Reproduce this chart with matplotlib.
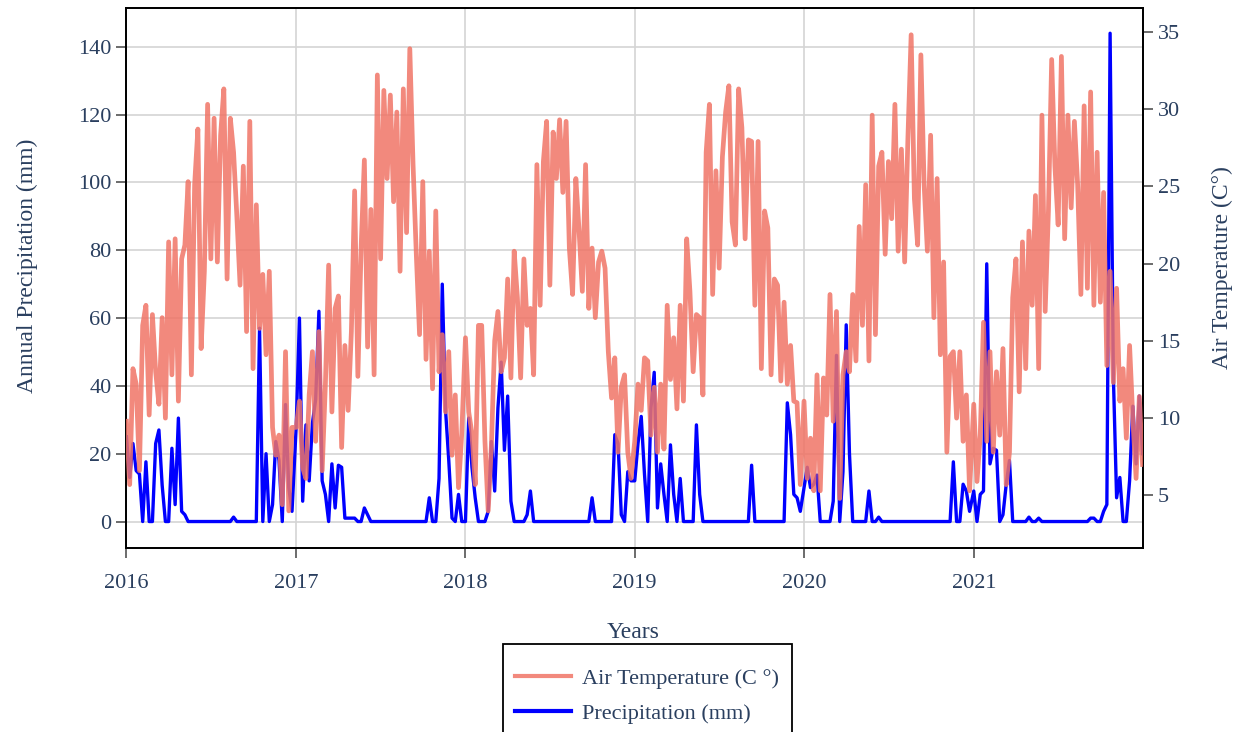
import matplotlib
matplotlib.use("Agg")
import matplotlib.pyplot as plt
import matplotlib.dates as mdates
from matplotlib.patches import Rectangle
import pandas as pd

# weekly mean air temperature (deg C), one list per year
temp_2016 = [9.8, 5.7, 13.2, 12.2, 6.6, 16.0, 17.3, 10.2, 16.7, 13.0, 10.9, 16.5, 10.0,
             21.4, 12.8, 21.6, 11.1, 20.3, 21.2, 25.3, 12.8, 25.1, 28.7, 14.5, 19.5, 30.3,
             20.3, 29.4, 20.1, 28.3, 31.3, 19.0, 29.4, 27.2, 23.1, 18.6, 26.3, 15.6, 29.2,
             13.2, 23.8, 15.8, 19.3, 14.1, 19.5, 9.4, 7.6, 8.9, 4.4, 14.3, 4.0, 9.4]
temp_2017 = [9.4, 11.1, 6.8, 6.1, 11.5, 14.3, 8.5, 15.6, 6.6, 12.2, 19.9, 10.4, 17.1,
             17.9, 8.1, 14.7, 10.5, 15.6, 24.7, 12.7, 21.0, 26.7, 14.6, 23.5, 12.8, 32.2,
             20.3, 31.2, 25.5, 30.9, 24.0, 29.8, 19.5, 31.3, 22.0, 33.9, 26.4, 20.6, 15.4,
             25.3, 13.8, 20.8, 11.9, 23.4, 13.0, 15.4, 10.4, 14.3, 7.6, 11.5, 5.5, 9.0]
temp_2018 = [15.2, 10.4, 9.0, 5.7, 16.0, 16.0, 8.5, 4.0, 8.3, 15.0, 16.9, 13.0, 13.9,
             19.0, 12.6, 20.8, 17.8, 12.6, 20.3, 16.0, 17.1, 12.8, 26.4, 17.3, 26.6, 29.2,
             18.6, 28.5, 25.5, 29.3, 24.6, 29.2, 21.0, 18.0, 25.5, 22.1, 18.2, 26.4, 17.1,
             21.0, 16.5, 20.1, 20.8, 19.7, 14.3, 11.3, 13.9, 7.8, 12.0, 12.8, 7.8, 6.1]
temp_2019 = [8.5, 12.2, 10.5, 13.9, 13.7, 8.9, 12.0, 7.8, 12.2, 8.0, 17.3, 12.5, 15.2,
             10.6, 17.3, 11.1, 21.6, 18.2, 13.0, 16.7, 16.5, 11.5, 27.2, 30.3, 18.0, 26.0,
             19.7, 26.9, 29.8, 31.5, 22.7, 21.2, 31.3, 28.8, 21.6, 28.0, 27.9, 17.3, 27.9,
             13.2, 23.4, 22.3, 12.8, 19.0, 18.6, 12.4, 17.5, 12.2, 14.7, 11.1, 11.0, 5.7]
temp_2020 = [11.1, 6.1, 8.7, 5.3, 12.8, 5.3, 12.6, 10.2, 18.0, 9.8, 16.9, 4.8, 12.8,
             14.3, 13.0, 18.0, 13.7, 22.4, 16.0, 25.1, 13.7, 29.6, 15.4, 26.3, 27.2, 20.6,
             26.6, 22.9, 30.3, 20.8, 27.4, 20.1, 28.1, 34.8, 24.2, 21.2, 33.5, 25.1, 20.8,
             28.3, 16.5, 25.5, 14.1, 20.1, 7.8, 14.0, 14.3, 10.0, 14.3, 8.5, 11.5, 5.3]
temp_2021 = [10.9, 5.9, 8.9, 16.2, 8.5, 14.3, 7.8, 13.0, 8.9, 14.5, 5.7, 7.8, 17.8,
             20.3, 11.7, 21.4, 13.2, 22.1, 17.3, 24.4, 13.2, 29.6, 16.9, 23.4, 33.2, 26.3,
             22.5, 33.4, 21.6, 29.6, 23.6, 29.2, 25.1, 18.0, 30.2, 18.4, 31.1, 17.3, 27.2,
             17.5, 24.6, 13.4, 19.5, 12.3, 18.4, 11.1, 13.2, 8.7, 14.7, 10.0, 6.1, 11.4, 7.0]

# weekly precipitation totals (mm)
rain_2016 = [25, 13, 23, 15, 14, 0, 17.6, 0, 0, 23, 27, 10.7, 0,
             0, 21.6, 5, 30.5, 3, 2, 0, 0, 0, 0, 0, 0, 0,
             0, 0, 0, 0, 0, 0, 0, 1.3, 0, 0, 0, 0, 0,
             0, 0, 57, 0, 20, 0, 5, 23.6, 18, 0, 34.5, 10, 3]
rain_2017 = [28, 60, 6, 28.5, 12, 29, 36, 62, 12, 8, 0, 17, 4,
             16.6, 16, 1, 1, 1, 1, 0, 0, 4, 2, 0, 0, 0,
             0, 0, 0, 0, 0, 0, 0, 0, 0, 0, 0, 0, 0,
             0, 0, 7, 0, 0, 12.7, 70, 33, 18, 1, 0, 8, 0]
rain_2018 = [0, 30.5, 16, 7, 0, 0, 0, 3, 23.6, 9, 33.5, 47, 21,
             37, 6, 0, 0, 0, 0, 2, 9, 0, 0, 0, 0, 0,
             0, 0, 0, 0, 0, 0, 0, 0, 0, 0, 0, 0, 0,
             7, 0, 0, 0, 0, 0, 0, 25.6, 23, 2, 0, 14.7, 12]
rain_2019 = [12, 23, 31, 14, 0, 33.5, 44, 4, 17, 8, 0, 22.6, 8,
             0, 12.7, 0, 0, 0, 0, 28.5, 8, 0, 0, 0, 0, 0,
             0, 0, 0, 0, 0, 0, 0, 0, 0, 0, 16.6, 0, 0,
             0, 0, 0, 0, 0, 0, 0, 0, 35, 25.6, 8, 7, 3]
rain_2020 = [10, 16, 10, 11, 13.7, 0, 0, 0, 0, 6, 49, 0, 14.7,
             58, 20, 0, 0, 0, 0, 0, 9, 0, 0, 1.3, 0, 0,
             0, 0, 0, 0, 0, 0, 0, 0, 0, 0, 0, 0, 0,
             0, 0, 0, 0, 0, 0, 0, 17.6, 0, 0, 11, 9, 3]
rain_2021 = [9, 0, 8, 9, 76, 17, 21.6, 21, 0, 2, 11, 18, 0,
             0, 0, 0, 0, 1.3, 0, 0, 1, 0, 0, 0, 0, 0,
             0, 0, 0, 0, 0, 0, 0, 0, 0, 0, 1, 1, 0,
             0, 3, 5, 144, 43, 7, 13, 0, 0, 12, 34, 17, 37, 20]

years = [2016, 2017, 2018, 2019, 2020, 2021]
temps = [temp_2016, temp_2017, temp_2018, temp_2019, temp_2020, temp_2021]
rains = [rain_2016, rain_2017, rain_2018, rain_2019, rain_2020, rain_2021]

frames = []
for yr, t, r in zip(years, temps, rains):
    dates = pd.date_range(f"{yr}-01-01", periods=len(t), freq="7D")
    frames.append(pd.DataFrame({"date": dates, "temp": t, "rain": r}))
df = pd.concat(frames, ignore_index=True)

plt.rcParams["font.family"] = ["Liberation Serif", "DejaVu Serif"]
txt = "#2a3f5f"
grid = "#d4d4d4"
salmon = "#f07466"

fig = plt.figure(figsize=(12.4, 7.32), dpi=100)
ax = fig.add_axes([0.1016, 0.2514, 0.8202, 0.737])
ax2 = ax.twinx()

# precipitation on the left axis, temperature drawn over it on the right axis
ax.plot(df["date"], df["rain"], color="#0000ff", lw=2.4, zorder=3)
ax2.plot(df["date"], df["temp"], color=salmon, lw=3.4, alpha=0.85, zorder=3)

ax.set_xlim(pd.Timestamp("2015-12-31"), pd.Timestamp("2022-01-01"))
ax.set_ylim(-7.8, 151.3)
ax2.set_ylim(1.6, 36.5)
ax.set_yticks(range(0, 141, 20))
ax2.set_yticks(range(5, 36, 5))
ax.set_xticks([pd.Timestamp(f"{y}-01-01") for y in years])
ax.xaxis.set_major_formatter(mdates.DateFormatter("%Y"))

ax.grid(True, color=grid, lw=1.2)
ax.set_axisbelow(True)
for a in (ax, ax2):
    for s in a.spines.values():
        s.set_color("black")
        s.set_linewidth(1.3)
    a.tick_params(colors="#444444", labelcolor=txt, labelsize=16, length=7, width=1.1)
ax.tick_params(axis="x", pad=12)

ax.set_ylabel("Annual Precipitation (mm)", fontsize=17, color=txt)
ax.yaxis.set_label_coords(-0.0865, 0.523)
ax2.set_ylabel("Air Temperature (C°)", fontsize=17, color=txt)
ax2.yaxis.set_label_coords(1.0678, 0.519)
ax.set_xlabel("Years", fontsize=17, color=txt)
ax.xaxis.set_label_coords(0.499, -0.137)

# legend below the plot; its box runs off the bottom edge of the figure
h1 = plt.Line2D([], [], color=salmon, lw=3.0, alpha=0.85)
h2 = plt.Line2D([], [], color="#0000ff", lw=3.0)
leg = fig.legend([h1, h2], ["Air Temperature (C °)", "Precipitation (mm)"],
                 loc="upper center", bbox_to_anchor=(0.522, 0.1038), fontsize=16,
                 frameon=False, handlelength=2.5, handletextpad=0.5, labelcolor=txt,
                 borderpad=0.55, labelspacing=0.66, borderaxespad=0)
fig.patches.append(Rectangle((0.4056, -0.05), 0.2331, 0.1702, transform=fig.transFigure,
                             fill=False, edgecolor="black", lw=1.3))

fig.savefig("out.png", dpi=100)
